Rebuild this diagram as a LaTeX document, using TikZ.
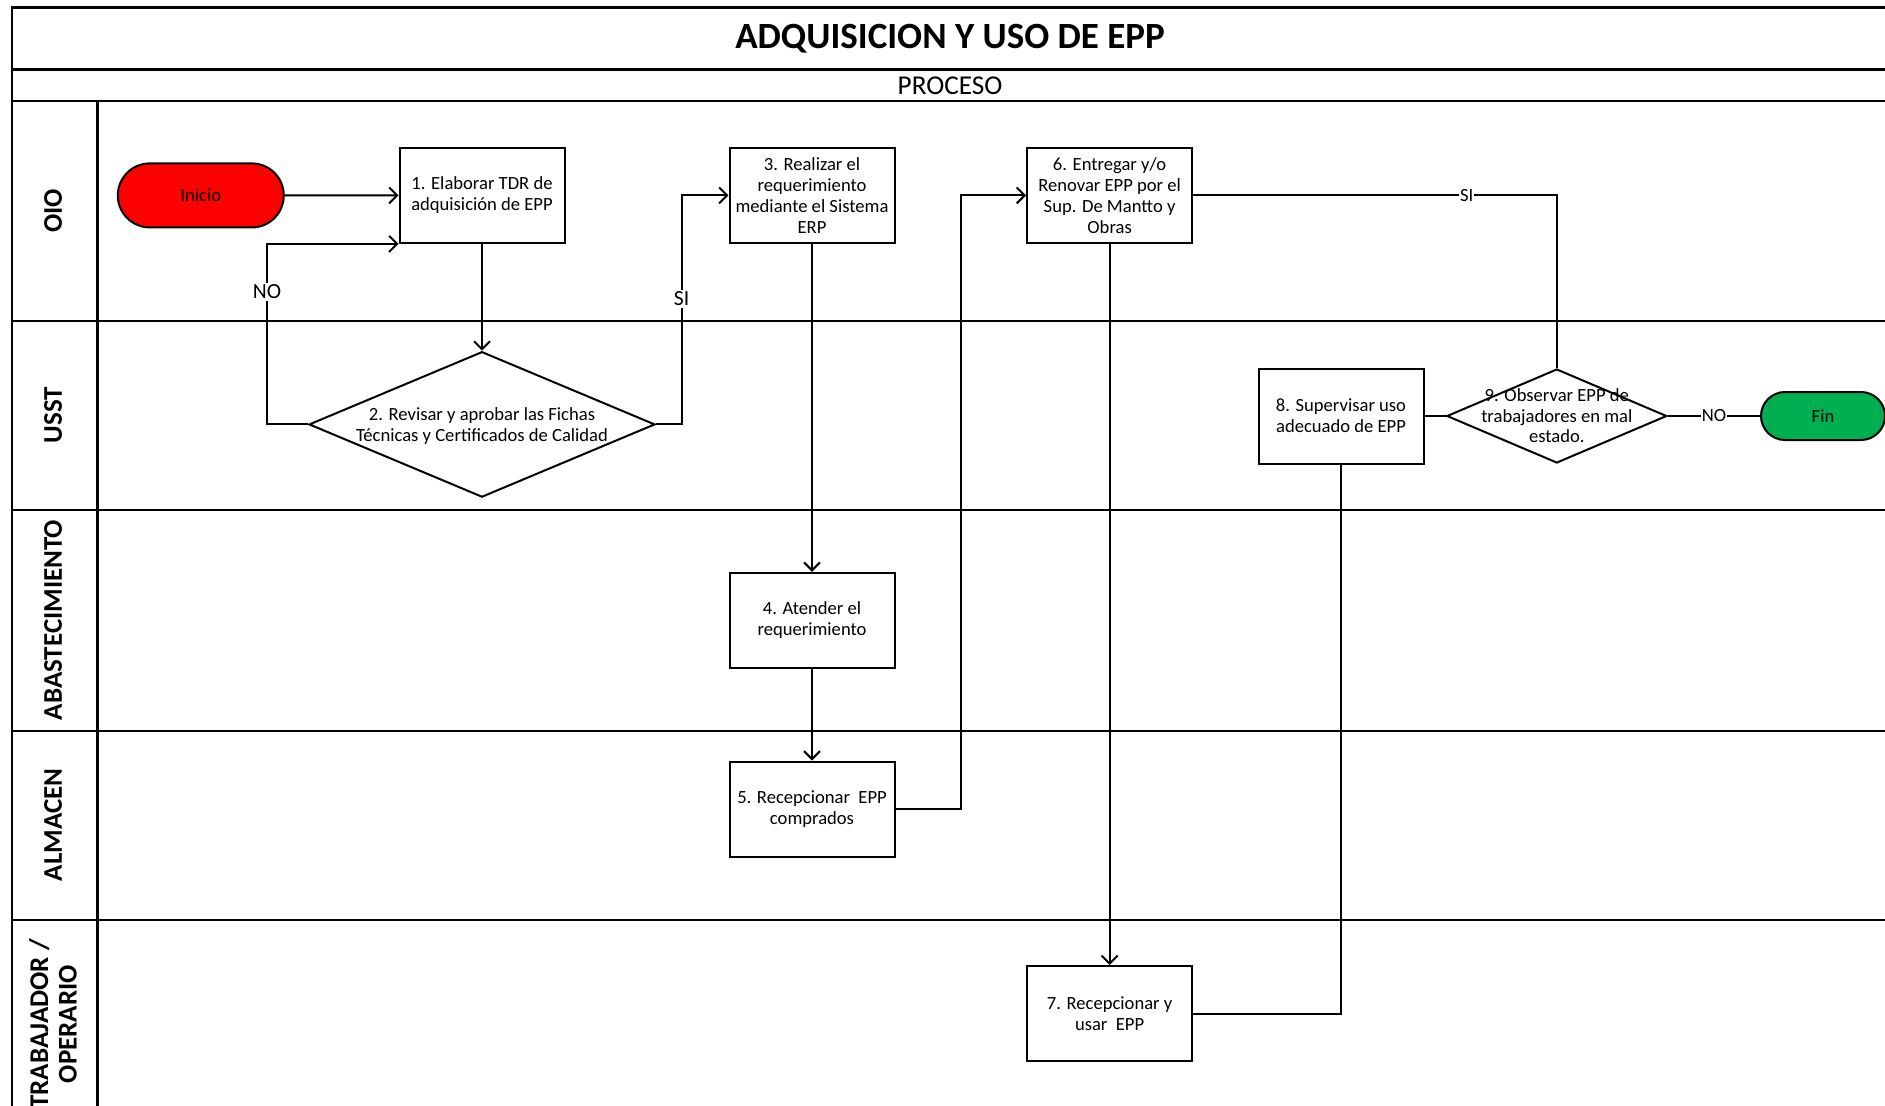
\documentclass[tikz,border=0pt]{standalone}
\usepackage{fontspec}
\setmainfont{Carlito}
\usetikzlibrary{arrows.meta,shapes.geometric,shapes.misc}
\begin{document}
\begin{tikzpicture}[x=0.5pt,y=-0.5pt,
  every node/.style={font=\fontsize{9.3}{10.6}\selectfont, text=black},
  stepbox/.style={draw, line width=1pt, rectangle, minimum width=82.5pt, minimum height=47.5pt, align=center, inner sep=1pt},
  decision/.style={draw, line width=1pt, diamond, inner sep=0pt, fill=white},
  term/.style={draw, line width=1pt, rounded rectangle, inner sep=0pt},
  flow/.style={line width=1pt, -{Straight Barb[length=4pt,width=8pt,line width=1pt]}},
  link/.style={line width=1pt},
  lbl/.style={fill=white, inner sep=1pt, font=\fontsize{10.8}{12}\selectfont},
  lane/.style={font=\bfseries\fontsize{13.5}{14.2}\selectfont, rotate=90, align=center},
  grid/.style={line width=1.3pt}
]
\useasboundingbox (0,0) rectangle (1885,1105);

% ---- frame, header rows and swimlanes ----
\draw[grid] (12,7.2) rectangle (1888,1130);
\draw[grid] (12,69.7) -- (1888,69.7);
\draw[grid] (12,101) -- (1888,101);
\draw[grid] (97.4,101) -- (97.4,1130);
\foreach \yy in {321,510,731,920} \draw[grid] (12,\yy) -- (1888,\yy);

\node[font=\bfseries\fontsize{18.5}{22}\selectfont] (title) at (950,38.5) {ADQUISICION Y USO DE EPP};
\node[font=\fontsize{13.6}{15}\selectfont] (proc) at (950,85.4) {PROCESO};

\node[lane] (l1) at (53,211) {OIO};
\node[lane] (l2) at (53,415) {USST};
\node[lane] (l3) at (53,620) {ABASTECIMIENTO};
\node[lane] (l4) at (53,825) {ALMACEN};
\node[lane] (l5) at (53,1024) {TRABAJADOR /\\OPERARIO};

% ---- process steps ----
\node[term, fill=red, minimum width=83pt, minimum height=32pt] (ini) at (200.8,195.4) {Inicio};
\node[stepbox] (b1) at (482,195.4) {1. Elaborar TDR de\\adquisición de EPP};
\node[decision, minimum width=173pt, minimum height=72.75pt] (d2) at (482,424.4) {};
\node[align=center] (d2t) at ([yshift=-1pt]d2.center) {2. Revisar y aprobar las Fichas\\Técnicas y Certificados de Calidad};
\node[stepbox] (b3) at (812,195.4) {3. Realizar el\\requerimiento\\mediante el Sistema\\ERP};
\node[stepbox] (b4) at (812,620.3) {4. Atender el\\requerimiento};
\node[stepbox] (b5) at (812,809) {5. Recepcionar\ \ EPP\\comprados};
\node[stepbox] (b6) at (1109.6,195.4) {6. Entregar y/o\\Renovar EPP por el\\Sup. De Mantto y\\Obras};
\node[stepbox] (b7) at (1109.6,1013.5) {7. Recepcionar y\\usar\ \ EPP};
\node[stepbox] (b8) at (1341,416) {8. Supervisar uso\\adecuado de EPP};
\node[decision, minimum width=110pt, minimum height=47pt] (d9) at (1556.8,416) {};
\node[align=center, font=\fontsize{9.3}{10.2}\selectfont] (d9t) at (d9.center) {9. Observar EPP de\\trabajadores en mal\\estado.};
\node[term, fill={rgb,255:red,0;green,176;blue,80}, minimum width=62pt, minimum height=24pt] (fin) at (1823,416) {Fin};

% ---- connectors ----
\coordinate (noturn) at (267,424.4);
\coordinate (siturn) at (681.6,424.4);
\coordinate (upturn) at (960.6,809);

\draw[flow] (ini) -- (b1);
\draw[flow] (b1.south) -- (b1.south |- d2.north);
\draw[flow] (d2.west) -- (noturn) |- (b1.south west);
\draw[flow] (d2.east) -- (siturn) |- (b3.west);
\draw[flow] (b3) -- (b4);
\draw[flow] (b4) -- (b5);
\draw[flow] (b5.east) -- (upturn) |- (b6.west);
\draw[flow] (b6) -- (b7);
\draw[link] (b7.east) -| (b8.south);
\draw[link] (b8.east) -- (d9.west);
\draw[link] (d9.north) |- (b6.east);
\draw[link] (d9.east) -- (fin.west);

\node[lbl] (lno1) at (267,292) {NO};
\node[lbl] (lsi1) at (681.6,299) {SI};
\node[lbl, font=\fontsize{9.3}{10}\selectfont, inner sep=0.5pt] (lsi2) at (1466.7,195.4) {SI};
\node[lbl, font=\fontsize{9.3}{10}\selectfont, inner sep=0.5pt] (lno2) at (1714,416) {NO};
\end{tikzpicture}
\end{document}
